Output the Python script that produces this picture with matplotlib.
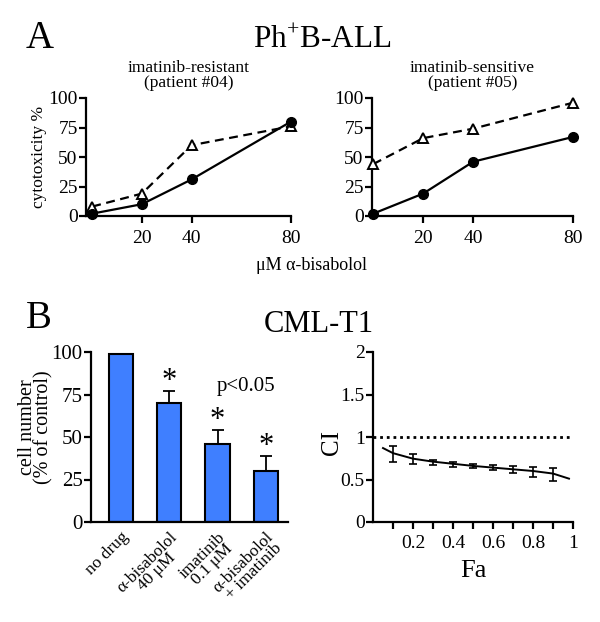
import numpy as np
import matplotlib
matplotlib.use('Agg')
import matplotlib.pyplot as plt

plt.rcParams['font.family'] = ['Liberation Serif', 'DejaVu Serif']
plt.rcParams['mathtext.fontset'] = 'custom'
plt.rcParams['mathtext.rm'] = 'Liberation Serif'

# ─── Data ───
dose = [0, 20, 40, 80]
res_alone = [2, 10, 31, 80]        # filled circles, patient #04
res_combo = [8, 19, 60, 76]        # open triangles, patient #04
sens_alone = [2, 19, 46, 67]       # filled circles, patient #05
sens_combo = [44, 66, 74, 96]      # open triangles, patient #05

bar_labels = ['no drug', 'α-bisabolol\n40 μM', 'imatinib\n0.1 μM', 'α-bisabolol\n+ imatinib']
bar_values = [99, 70, 46, 30]
bar_errors = [0, 7, 8, 9]
bar_stars = [False, True, True, True]

fa_curve = [0.05, 0.1, 0.2, 0.3, 0.4, 0.5, 0.6, 0.7, 0.8, 0.9, 0.98]
ci_curve = [0.87, 0.81, 0.745, 0.71, 0.685, 0.66, 0.64, 0.62, 0.60, 0.57, 0.51]
fa_pts = [0.1, 0.2, 0.3, 0.4, 0.5, 0.6, 0.7, 0.8, 0.9]
ci_pts = [0.80, 0.74, 0.70, 0.68, 0.66, 0.64, 0.62, 0.59, 0.56]
ci_err = [0.09, 0.06, 0.03, 0.03, 0.025, 0.03, 0.04, 0.06, 0.08]

W, H = 600, 622


def add_ax(fig, x0, x1, y0, y1):
    """Axes from pixel box (top-left origin)."""
    return fig.add_axes([x0 / W, (H - y1) / H, (x1 - x0) / W, (y1 - y0) / H])


def style(ax, lw=1.6):
    for s in ['top', 'right']:
        ax.spines[s].set_visible(False)
    for s in ['left', 'bottom']:
        ax.spines[s].set_linewidth(lw)
    ax.tick_params(direction='out', length=5, width=lw, pad=1)


fig = plt.figure(figsize=(W / 100, H / 100), dpi=100)

fig.text(40 / W, 1 - 39 / H, 'A', fontsize=28, ha='center', va='center')
fig.text(322 / W, 1 - 40 / H, 'Ph$^{+}$B-ALL', fontsize=22.5, ha='center', va='center')
fig.text(311 / W, 1 - 265 / H, 'μM α-bisabolol', fontsize=13, ha='center', va='center')
fig.text(39 / W, 1 - 318 / H, 'B', fontsize=28, ha='center', va='center')
fig.text(319 / W, 1 - 325 / H, 'CML-T1', fontsize=22, ha='center', va='center')


def dose_panel(ax, alone, combo, title, ylabel):
    style(ax)
    ax.plot(dose, combo, color='black', lw=1.6, ls=(0, (4, 2.5)), marker='^',
            mfc='white', mec='black', mew=1.4, ms=7, clip_on=False, zorder=3)
    ax.plot(dose, alone, color='black', lw=1.6, marker='o', ms=7,
            clip_on=False, zorder=4)
    ax.set_xlim(-2.5, 80)
    ax.set_ylim(0, 100)
    ax.set_xticks([20, 40, 80])
    ax.set_yticks([0, 25, 50, 75, 100])
    ax.tick_params(labelsize=14)
    ax.tick_params(axis='x', pad=5)
    ax.set_title(title, fontsize=12.5, linespacing=0.9, pad=8)
    if ylabel:
        ax.set_ylabel(ylabel, fontsize=12.5, labelpad=1)


ax1 = add_ax(fig, 86, 291, 98, 216)
dose_panel(ax1, res_alone, res_combo, 'imatinib-resistant\n(patient #04)', 'cytotoxicity %')
ax2 = add_ax(fig, 372, 573, 98, 216)
dose_panel(ax2, sens_alone, sens_combo, 'imatinib-sensitive\n(patient #05)', None)
ax2.set_xlim(-0.5, 80)

# ─── Bar chart ───
ax3 = add_ax(fig, 91, 288, 352, 522)
style(ax3)
x = np.arange(len(bar_values))
ax3.bar(x, bar_values, width=0.5, color='#3f7fff', edgecolor='black', lw=1.5, zorder=2)
ax3.errorbar(x[1:], bar_values[1:], yerr=[np.zeros(3), bar_errors[1:]], fmt='none',
             ecolor='black', elinewidth=1.3, capsize=4, capthick=1.3, zorder=1)
for xi, v, e, s in zip(x, bar_values, bar_errors, bar_stars):
    if s:
        ax3.text(xi, v + e - 3, '*', fontsize=22, ha='center', va='bottom')
ax3.text(2.6, 80, 'p<0.05', fontsize=15, ha='center', va='center')
ax3.set_xlim(-0.62, 3.46)
ax3.set_ylim(0, 100)
ax3.set_yticks([0, 25, 50, 75, 100])
ax3.set_xticks(x)
ax3.set_xticklabels(bar_labels, rotation=45, ha='right', va='top', rotation_mode='anchor',
                    multialignment='center', linespacing=0.8, fontsize=12.5)
ax3.tick_params(axis='x', length=0, pad=5)
ax3.tick_params(axis='y', labelsize=15)
ax3.set_ylabel('cell number\n(% of control)', fontsize=14.5, linespacing=0.8)
ax3.yaxis.set_label_coords(-0.19, 0.56)

# ─── CI plot ───
ax4 = add_ax(fig, 373, 573, 352, 522)
style(ax4)
ax4.axhline(1, color='black', lw=2, ls=(0, (1, 1.4)))
ax4.plot(fa_curve, ci_curve, color='black', lw=1.4)
ax4.errorbar(fa_pts, ci_pts, yerr=ci_err, fmt='none', ecolor='black',
             elinewidth=1.2, capsize=3, capthick=1.2)
ax4.set_xlim(0, 1)
ax4.set_ylim(0, 2)
ax4.set_xticks(np.arange(0.1, 1.01, 0.1))
ax4.set_xticklabels(['', '0.2', '', '0.4', '', '0.6', '', '0.8', '', '1'])
ax4.set_yticks([0, 0.5, 1, 1.5, 2])
ax4.set_yticklabels(['0', '0.5', '1', '1.5', '2'])
ax4.tick_params(labelsize=14)
ax4.tick_params(axis='x', pad=4)
ax4.set_xlabel('Fa', fontsize=19, labelpad=6)
ax4.set_ylabel('CI', fontsize=18)
ax4.yaxis.set_label_coords(-0.15, 0.47)

fig.savefig('out.png', dpi=100)
